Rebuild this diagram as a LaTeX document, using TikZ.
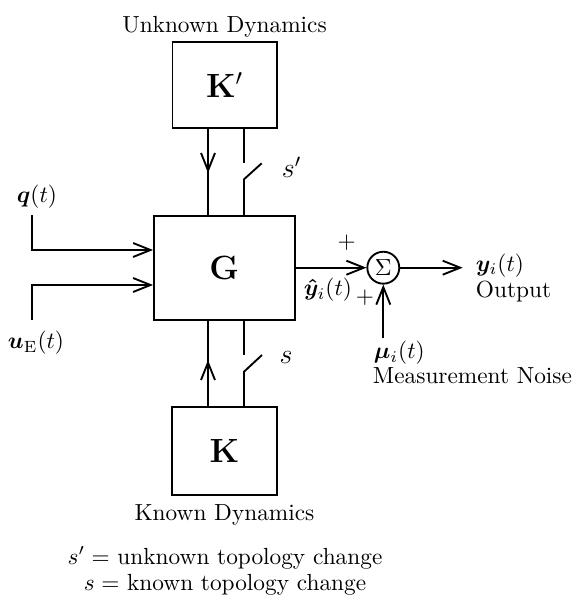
\documentclass[tikz,border=0pt]{standalone}
\usepackage{amsmath,bm}
\usetikzlibrary{arrows.meta,calc}
\begin{document}
\begin{tikzpicture}[x=0.429pt,y=-0.429pt,
  line width=0.8pt,
  arr/.style={-{Straight Barb[length=7.5pt,width=6pt,line width=0.8pt]}},
  blk/.style={draw,inner sep=0pt,font=\Large},
  lbl/.style={inner sep=0pt},
]
\useasboundingbox (0,0) rectangle (572,596);
% lane x positions
\coordinate (L) at (208,0);
\coordinate (R) at (244,0);
% blocks
\node[lbl,anchor=base] (ud) at (224.5,32) {Unknown Dynamics};
\node[blk,minimum width=44.7pt,minimum height=36.9pt] (Kp) at (224.6,84.7) {$\mathbf{K}'$};
\node[blk,minimum width=60.3pt,minimum height=44.7pt] (G) at (224.3,267.9) {$\mathbf{G}$};
\node[blk,minimum width=45pt,minimum height=37.8pt] (K) at (224.5,451) {$\mathbf{K}$};
\node[lbl,anchor=base] (kd) at (224.5,520) {Known Dynamics};
% top connections
\coordinate (ma) at (208,173);
\draw (Kp.south -| L) -- (G.north -| L);
\draw[arr] (Kp.south -| L) -- (ma);
\coordinate (s1a) at (244,162.7);
\coordinate (s1b) at (244,179.3);
\coordinate (s1c) at (261.7,163.3);
\draw (Kp.south -| R) -- (s1a);
\draw (G.north -| R) -- (s1b) -- (s1c);
\node[lbl,font=\large] (sp) at (291.7,167) {$s'$};
% bottom connections
\coordinate (mb) at (208,360);
\draw (K.north -| L) -- (G.south -| L);
\draw[arr] (K.north -| L) -- (mb);
\coordinate (s2a) at (244,355);
\coordinate (s2b) at (244,371.7);
\coordinate (s2c) at (262,355);
\draw (G.south -| R) -- (s2a);
\draw (K.north -| R) -- (s2b) -- (s2c);
\node[lbl,font=\large] (sl) at (286,357) {$s$};
% inputs
\node[lbl] (ql) at (37,197) {$\bm{q}(t)$};
\coordinate (q0) at (32.3,215);
\coordinate (qy) at (0,250);
\draw[arr] (q0) |- (G.west |- qy);
\node[lbl] (ul) at (36,343) {$\bm{u}_{\mathrm{E}}(t)$};
\coordinate (u0) at (32.3,320);
\coordinate (uy) at (0,285);
\draw[arr] (u0) |- (G.west |- uy);
% summation
\node[draw,circle,minimum size=13.7pt,inner sep=0pt] (sum) at (383.3,267.7) {$\Sigma$};
\draw[arr] (G.east |- sum) -- (sum.west);
\node[lbl] (p1) at (346.7,243) {$+$};
\node[lbl] (p2) at (365,298) {$+$};
\node[lbl] (yh) at (328,290) {$\bm{\hat{y}}_i(t)$};
% output
\coordinate (yo) at (462.7,267.7);
\draw[arr] (sum.east) -- (yo);
\node[lbl,anchor=west] (yl) at (475,265.5) {$\bm{y}_i(t)$};
\node[lbl,anchor=base west] (out) at (475,297) {Output};
% noise
\coordinate (m0) at (383.3,338);
\draw[arr] (m0) -- (sum.south);
\node[lbl,anchor=west] (mul) at (373,353) {$\bm{\mu}_i(t)$};
\node[lbl,anchor=base west] (mn) at (372,383) {Measurement Noise};
% legend
\node[lbl,anchor=base] (leg1) at (225,564) {$s' =$ unknown topology change};
\node[lbl,anchor=base] (leg2) at (225,590) {$s =$ known topology change};
\end{tikzpicture}
\end{document}
